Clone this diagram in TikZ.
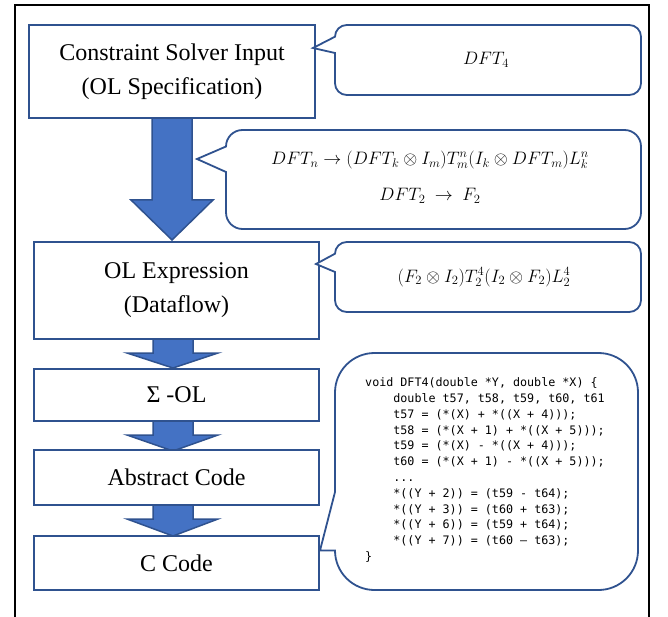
\RequirePackage{fix-cm}
\documentclass[tikz,border=0pt]{standalone}
\usepackage{fontspec}
\setmainfont{Liberation Serif}
\newfontfamily\codefont{DejaVu Sans Mono}
\definecolor{ol}{HTML}{2F528F}
\definecolor{fl}{HTML}{4472C4}
\newcommand\ind{\hphantom{0000}}
\begin{document}
\begin{tikzpicture}[x=1pt,y=1pt,
  blk/.style={draw=ol, line width=1.8pt, fill=white, inner sep=0},
  arr/.style={draw=ol, line width=1.5pt, fill=fl, line join=miter},
  co/.style={draw=ol, line width=1.8pt, fill=white, line join=miter},
  lbl/.style={font=\fontsize{24}{34}\selectfont, align=center},
  mth/.style={font=\fontsize{18}{20}\selectfont, inner sep=0}]
\useasboundingbox (0,0) rectangle (668,616);
\draw[line width=2.2pt] (15,-5) -- (15,611) -- (649,611) -- (649,-5);
% block arrows
\draw[arr] (152,498) -- (152,416) -- (131,416) -- (172,376) -- (213,416) -- (192,416) -- (192,498) -- cycle;
\draw[arr] (153,277) -- (153,263) -- (127,263) -- (173,248) -- (218,263) -- (193,263) -- (193,277) -- cycle;
\draw[arr] (153,195) -- (153,181) -- (127,181) -- (173,165) -- (218,181) -- (193,181) -- (193,195) -- cycle;
\draw[arr] (153,111) -- (153,97) -- (127,97) -- (173,80) -- (218,97) -- (193,97) -- (193,111) -- cycle;
% boxes
\node[blk, lbl, minimum width=286, minimum height=93] (b1) at (172,544.5) {Constraint Solver Input\\(OL Specification)};
\node[blk, lbl, minimum width=285, minimum height=97] (b2) at (176.5,325.5) {OL Expression\\(Dataflow)};
\node[blk, lbl, minimum width=285, minimum height=52] (b3) at (176.5,221) {Σ -OL};
\node[blk, lbl, minimum width=285, minimum height=55] (b4) at (176.5,138.5) {Abstract Code};
\node[blk, lbl, minimum width=285, minimum height=54] (b5) at (176.5,53) {C Code};
% callouts
\draw[co] (335,579.3) -- (313,568) -- (335,563) -- (335,532.7)
  arc[start angle=180,end angle=270,radius=11.7] -- (629.3,521)
  arc[start angle=270,end angle=360,radius=11.7] -- (641,579.3)
  arc[start angle=0,end angle=90,radius=11.7] -- (346.7,591)
  arc[start angle=90,end angle=180,radius=11.7] -- cycle;
\draw[co] (226,469.5) -- (197,457) -- (226,444) -- (226,403.5)
  arc[start angle=180,end angle=270,radius=16.5] -- (624.5,387)
  arc[start angle=270,end angle=360,radius=16.5] -- (641,469.5)
  arc[start angle=0,end angle=90,radius=16.5] -- (242.5,486)
  arc[start angle=90,end angle=180,radius=16.5] -- cycle;
\draw[co] (335,362.3) -- (316,352) -- (335,344) -- (335,315.7)
  arc[start angle=180,end angle=270,radius=11.7] -- (629.3,304)
  arc[start angle=270,end angle=360,radius=11.7] -- (641,362.3)
  arc[start angle=0,end angle=90,radius=11.7] -- (346.7,374)
  arc[start angle=90,end angle=180,radius=11.7] -- cycle;
\draw[co] (335,124) -- (320,65.5) -- (335,65.5)
  arc[start angle=180,end angle=270,radius=39.5] -- (598.5,26)
  arc[start angle=270,end angle=360,radius=39.5] -- (638,223.5)
  arc[start angle=0,end angle=90,radius=39.5] -- (374.5,263)
  arc[start angle=90,end angle=180,radius=39.5] -- cycle;
% callout texts
\node[mth] (t1) at (486,556) {$DFT_4$};
\node[mth] (t2a) at (430,456) {$DFT_n \rightarrow (DFT_k\otimes I_m)T^n_m(I_k\otimes DFT_m)L^n_k$};
\node[mth] (t2b) at (430,420) {$DFT_2\ \rightarrow\ F_2$};
\node[mth] (t3) at (484,339) {$(F_2\otimes I_2)T^4_2(I_2\otimes F_2)L^4_2$};
\node[anchor=west, inner sep=0, align=left, font=\codefont\fontsize{11.7}{15.8}\selectfont] (code) at (365,146)
{void DFT4(double *Y, double *X) \{\\
\ind double t57, t58, t59, t60, t61\\
\ind t57 = (*(X) + *((X + 4)));\\
\ind t58 = (*(X + 1) + *((X + 5)));\\
\ind t59 = (*(X) - *((X + 4)));\\
\ind t60 = (*(X + 1) - *((X + 5)));\\
\ind ...\\
\ind *((Y + 2)) = (t59 - t64);\\
\ind *((Y + 3)) = (t60 + t63);\\
\ind *((Y + 6)) = (t59 + t64);\\
\ind *((Y + 7)) = (t60 – t63);\\
\}};
\end{tikzpicture}
\end{document}
